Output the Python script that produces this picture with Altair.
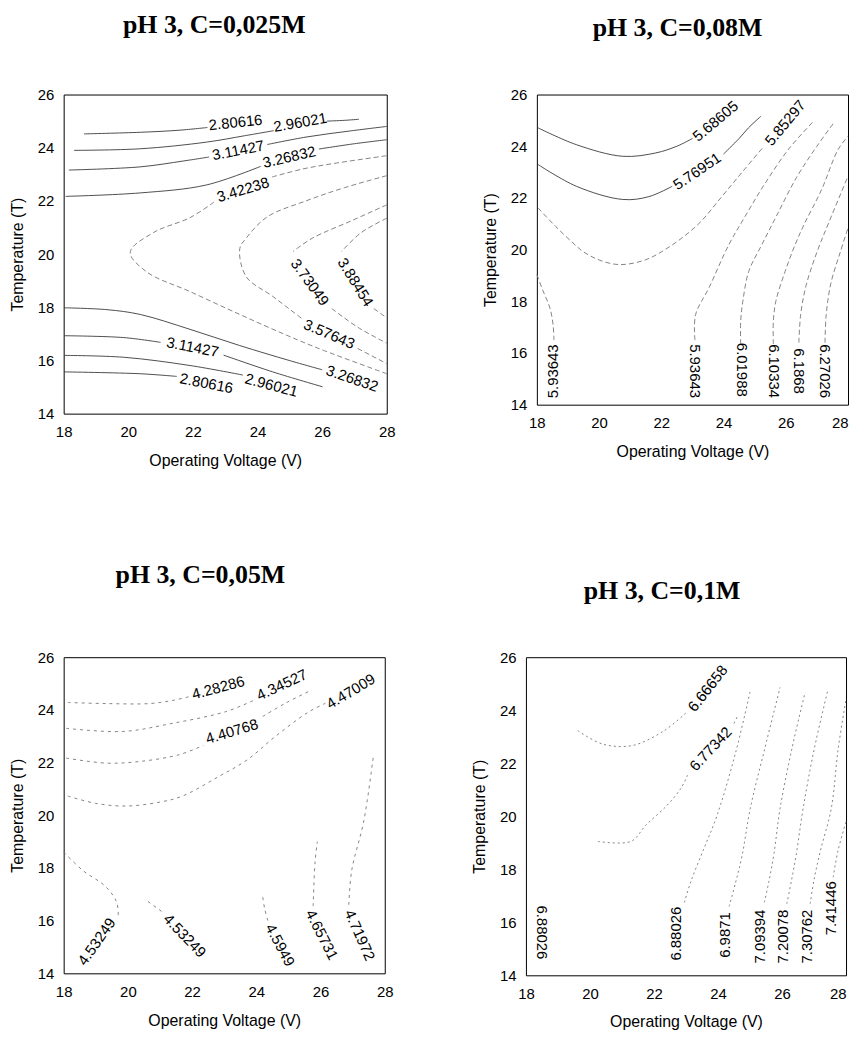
import altair as alt
import pandas as pd

# ---------------- data ----------------
X_TICKS = [18, 20, 22, 24, 26, 28]
Y_TICKS = [14, 16, 18, 20, 22, 24, 26]

TITLES = ["pH 3, C=0,025M", "pH 3, C=0,08M", "pH 3, C=0,05M", "pH 3, C=0,1M"]

# contour polylines: (level, [(voltage, temperature), ...])
P1_LINES = [
    ("2.80616", [(18.63, 24.52), (20.37, 24.58), (21.6, 24.66), (22.45, 24.76)]),
    ("2.96021", [(18.32, 23.90), (20.37, 23.96), (22.42, 24.21), (23.6, 24.45), (24.5, 24.64)]),
    ("2.96021", [(26.15, 25.0), (26.7, 25.03), (27.14, 25.07)]),
    ("3.11427", [(18.16, 23.16), (20.37, 23.28), (21.7, 23.5), (22.5, 23.65)]),
    ("3.11427", [(24.3, 24.12), (25.5, 24.4), (26.8, 24.62), (28.0, 24.8)]),
    ("3.26832", [(18.06, 22.17), (20.37, 22.3), (22.42, 22.6), (24.1, 23.3)]),
    ("3.26832", [(25.9, 23.95), (27.0, 24.15), (28.0, 24.3)]),
    ("3.42238", [(22.65, 21.95), (21.91, 21.37), (20.78, 20.81), (20.06, 20.07), (20.57, 19.33),
                 (21.91, 18.59), (23.45, 17.73), (24.9, 16.95), (26.0, 16.4), (28.0, 15.5)]),
    ("3.42238", [(24.45, 22.9), (25.4, 23.2), (26.32, 23.4), (28.0, 23.7)]),
    ("3.57643", [(28.0, 22.95), (26.7, 22.5), (25.5, 22.0), (24.3, 21.4), (23.65, 20.6), (23.45, 20.2),
                 (23.65, 19.15), (24.47, 18.41), (25.4, 17.55)]),
    ("3.57643", [(27.1, 16.45), (28.0, 15.88)]),
    ("3.73049", [(28.0, 21.85), (26.9, 21.25), (25.7, 20.6), (25.1, 20.1)]),
    ("3.73049", [(26.3, 17.95), (27.1, 17.25), (28.0, 16.65)]),
    ("3.88454", [(28.0, 21.35), (27.2, 20.8), (26.6, 20.1)]),
    ("3.88454", [(27.6, 17.95), (28.0, 17.6)]),
    ("2.80616", [(18.01, 15.57), (20.37, 15.5), (21.5, 15.4)]),
    ("2.96021", [(18.01, 16.19), (19.86, 16.12), (21.91, 15.81), (23.55, 15.45)]),
    ("3.11427", [(18.01, 16.93), (19.86, 16.86), (21.0, 16.68)]),
    ("3.11427", [(22.95, 16.2), (24.47, 15.57), (26.01, 15.01)]),
    ("3.26832", [(18.01, 17.98), (19.34, 17.91), (20.37, 17.73), (21.91, 17.17), (23.45, 16.56),
                 (24.98, 16.0), (26.0, 15.65)]),
]
P1_LABELS = [
    ("2.80616", 23.32, 24.95, 354), ("2.96021", 25.32, 24.95, 350),
    ("3.11427", 23.40, 23.90, 349), ("3.26832", 24.98, 23.65, 347),
    ("3.42238", 23.55, 22.42, 343), ("3.73049", 25.62, 18.94, 54),
    ("3.88454", 27.03, 18.94, 58), ("3.57643", 26.22, 16.99, 23),
    ("3.11427", 21.99, 16.50, 11), ("3.26832", 26.93, 15.32, 19),
    ("2.80616", 22.42, 15.14, 11), ("2.96021", 24.43, 15.07, 15),
]
P1_STRONG = ["2.80616", "2.96021", "3.11427", "3.26832"]

P2_LINES = [
    ("5.68605", [(18.04, 24.71), (19.27, 24.06), (20.76, 23.61), (21.82, 23.74), (22.5, 24.0), (23.0, 24.3)]),
    ("5.76951", [(18.04, 23.29), (19.27, 22.45), (20.76, 21.94), (21.6, 22.05), (22.35, 22.45)]),
    ("5.76951", [(24.0, 23.7), (24.5, 24.3), (24.8, 24.71), (25.2, 25.16)]),
    ("5.85297", [(18.04, 21.61), (18.6, 20.9), (19.16, 20.26), (19.48, 19.93), (20.0, 19.6), (20.65, 19.42),
                 (21.5, 19.61), (22.36, 20.19), (23.2, 21.0), (23.95, 22.06), (24.6, 23.0), (25.3, 24.0)]),
    ("5.93643", [(18.0, 19.03), (18.2, 18.4), (18.42, 17.74), (18.52, 17.1), (18.55, 16.5)]),
    ("5.93643", [(23.08, 16.5), (23.1, 17.48), (23.53, 18.52), (24.17, 20.19), (24.7, 21.3), (25.3, 22.5),
                 (26.1, 23.9), (26.88, 24.95)]),
    ("6.01988", [(24.55, 16.35), (24.55, 17.22), (24.62, 18.0), (24.81, 19.16), (25.23, 20.19), (25.7, 21.3),
                 (26.35, 22.8), (27.0, 24.0), (27.57, 24.95)]),
    ("6.10334", [(25.6, 16.35), (25.6, 17.22), (25.68, 18.0), (25.98, 19.16), (26.3, 20.19), (26.6, 21.0),
                 (27.15, 22.32), (27.68, 23.87), (28.0, 24.39)]),
    ("6.1868", [(26.42, 16.4), (26.48, 17.5), (26.65, 18.6), (27.0, 19.9), (27.4, 21.1), (28.0, 22.84)]),
    ("6.27026", [(27.26, 16.4), (27.3, 17.5), (27.45, 18.7), (27.75, 19.9), (28.0, 20.84)]),
]
P2_LABELS = [
    ("5.68605", 23.74, 24.97, 320), ("5.76951", 23.15, 23.03, 326),
    ("5.85297", 25.98, 24.90, 310), ("5.93643", 18.52, 15.29, 270),
    ("5.93643", 23.08, 15.30, 90), ("6.01988", 24.59, 15.35, 90),
    ("6.10334", 25.63, 15.30, 90), ("6.1868", 26.42, 15.30, 90),
    ("6.27026", 27.26, 15.30, 90),
]
P2_STRONG = ["5.68605", "5.76951"]

P3_LINES = [
    ("4.28286", [(18.13, 24.28), (19.32, 24.24), (20.67, 24.24), (21.4, 24.36), (21.9, 24.5)]),
    ("4.34527", [(18.08, 23.30), (19.84, 23.18), (21.39, 23.49), (23.04, 23.93), (23.9, 24.35)]),
    ("4.40768", [(18.08, 22.17), (19.32, 21.98), (20.36, 22.04), (21.6, 22.3), (22.35, 22.65)]),
    ("4.40768", [(24.2, 23.75), (24.9, 24.25), (25.72, 24.75)]),
    ("4.47009", [(18.13, 20.73), (19.0, 20.45), (19.94, 20.35), (21.0, 20.5), (21.7, 20.73), (22.8, 21.45),
                 (23.71, 22.1), (24.6, 23.0), (25.6, 23.9), (26.15, 24.25)]),
    ("4.53249", [(18.0, 18.6), (18.6, 17.9), (19.3, 17.3), (19.65, 16.7), (19.7, 16.2)]),
    ("4.53249", [(21.05, 16.35), (20.6, 16.75)]),
    ("4.5949", [(24.36, 16.0), (24.26, 16.45), (24.2, 16.9)]),
    ("4.65731", [(25.77, 16.55), (25.78, 16.92), (25.83, 18.24), (25.9, 19.0)]),
    ("4.71972", [(26.88, 16.6), (26.97, 17.9), (27.35, 19.8), (27.65, 22.3)]),
]
P3_LABELS = [
    ("4.28286", 22.81, 24.84, 345), ("4.34527", 24.79, 24.95, 335),
    ("4.40768", 23.24, 23.18, 343), ("4.47009", 26.94, 24.70, 329),
    ("4.53249", 19.03, 15.20, 305), ("4.53249", 21.77, 15.43, 46),
    ("4.5949", 24.74, 15.07, 62), ("4.65731", 26.04, 15.46, 63),
    ("4.71972", 27.22, 15.45, 66),
]
P3_STRONG = []

P4_LINES = [
    ("6.66658", [(19.62, 23.23), (20.4, 22.72), (21.33, 22.67), (22.32, 23.23), (23.0, 23.9)]),
    ("6.77342", [(20.25, 19.05), (21.28, 19.05), (21.75, 19.67), (22.4, 20.4), (22.84, 21.05), (23.05, 21.55)]),
    ("6.77342", [(24.5, 23.5), (24.62, 23.8)]),
    ("6.88026", [(22.95, 16.75), (23.15, 17.53), (23.56, 18.78), (23.97, 20.03), (24.55, 22.4), (25.01, 24.73)]),
    ("6.9871", [(24.35, 16.6), (24.55, 17.5), (24.75, 18.5), (25.01, 20.3), (25.45, 22.5), (25.94, 24.86)]),
    ("7.09394", [(25.45, 16.75), (25.6, 17.6), (25.75, 18.6), (25.94, 20.3), (26.3, 22.5), (26.72, 24.67)]),
    ("7.20078", [(26.15, 16.7), (26.3, 17.6), (26.45, 18.6), (26.66, 20.3), (27.0, 22.5), (27.44, 24.8)]),
    ("7.30762", [(26.88, 16.7), (27.0, 17.6), (27.2, 18.7), (27.54, 20.3), (27.75, 22.5), (28.0, 24.42)]),
    ("7.41446", [(27.6, 17.7), (27.75, 18.7), (28.0, 19.8)]),
]
P4_LABELS = [
    ("6.66658", 23.68, 24.82, 308), ("6.77342", 23.77, 22.54, 313),
    ("6.88026", 18.51, 15.62, 90), ("6.88026", 22.70, 15.57, 270),
    ("6.9871", 24.23, 15.52, 270), ("7.09394", 25.32, 15.46, 270),
    ("7.20078", 26.04, 15.46, 270), ("7.30762", 26.77, 15.46, 270),
    ("7.41446", 27.54, 16.53, 270),
]
P4_STRONG = []

# ---------------- chart ----------------
SANS = "Liberation Sans"
SERIF = "Liberation Serif"


def panel(lines, labels, strong, title, w, h, off, dx, faint_dash, right_panel):
    recs = []
    for k, (lvl, pts) in enumerate(lines):
        for i, (v, t) in enumerate(pts):
            recs.append({"seg": k, "i": i, "V": v, "T": t,
                         "kind": "strong" if lvl in strong else "faint"})
    ldf = pd.DataFrame(recs)
    tdf = pd.DataFrame(labels, columns=["txt", "V", "T", "ang"])

    xaxis_kw = dict(values=X_TICKS, title="Operating Voltage (V)")
    if right_panel:
        xaxis_kw["labelAlign"] = {"condition": {"test": "datum.value == 28", "value": "right"},
                                  "value": "center"}
    x = alt.X("V:Q", scale=alt.Scale(domain=[18, 28], nice=False, zero=False),
              axis=alt.Axis(**xaxis_kw))
    y = alt.Y("T:Q", scale=alt.Scale(domain=[14, 26], nice=False, zero=False),
              axis=alt.Axis(values=Y_TICKS, title="Temperature (T)"))

    layers = []
    sdf = ldf[ldf["kind"] == "strong"]
    fdf = ldf[ldf["kind"] == "faint"]
    if len(sdf):
        layers.append(alt.Chart(sdf).mark_line(interpolate="catmull-rom", color="#3a3a3a",
                                               strokeWidth=0.9).encode(
            x=x, y=y, detail="seg:N", order="i:Q"))
    if len(fdf):
        layers.append(alt.Chart(fdf).mark_line(interpolate="catmull-rom", color="#777777",
                                               strokeWidth=0.9, strokeDash=faint_dash).encode(
            x=x, y=y, detail="seg:N", order="i:Q"))
    layers.append(alt.Chart(tdf).mark_text(font=SANS, fontSize=15, color="black",
                                           align="center", baseline="middle").encode(
        x=x, y=y, text="txt:N", angle=alt.Angle("ang:Q", scale=None)))
    return alt.layer(*layers).properties(
        width=w, height=h,
        title=alt.TitleParams(title, font=SERIF, fontSize=26, fontWeight="bold",
                              anchor="middle", frame="group", dx=dx, offset=off,
                              color="black"))


p1 = panel(P1_LINES, P1_LABELS, P1_STRONG, TITLES[0], 325, 321, 50, -11, [5, 3], False)
p2 = panel(P2_LINES, P2_LABELS, P2_STRONG, TITLES[1], 313, 312, 47, -15, [5, 3], True)
p3 = panel(P3_LINES, P3_LABELS, P3_STRONG, TITLES[2], 323, 318, 63, -24, [3, 4], False)
p4 = panel(P4_LINES, P4_LABELS, P4_STRONG, TITLES[3], 322, 320, 47, -24, [2, 3], True)

top = alt.hconcat(p1, p2, spacing=86)
bottom = alt.hconcat(p3, p4, spacing=77)

chart = alt.vconcat(top, bottom, spacing=92).properties(
    padding=0, background="white"
).configure_view(
    stroke="black", strokeWidth=1
).configure_axis(
    domain=False, ticks=False, tickSize=0, grid=False,
    labelFont=SANS, labelFontSize=15, labelColor="black",
    titleFont=SANS, titleFontSize=16, titleFontWeight="normal", titleColor="black",
    labelFlush=False, labelOverlap=False
).configure_axisX(
    labelPadding=11, titlePadding=13
).configure_axisY(
    labelPadding=10, titlePadding=12
)

chart.save("out.html", embed_options={"renderer": "svg", "actions": False})
